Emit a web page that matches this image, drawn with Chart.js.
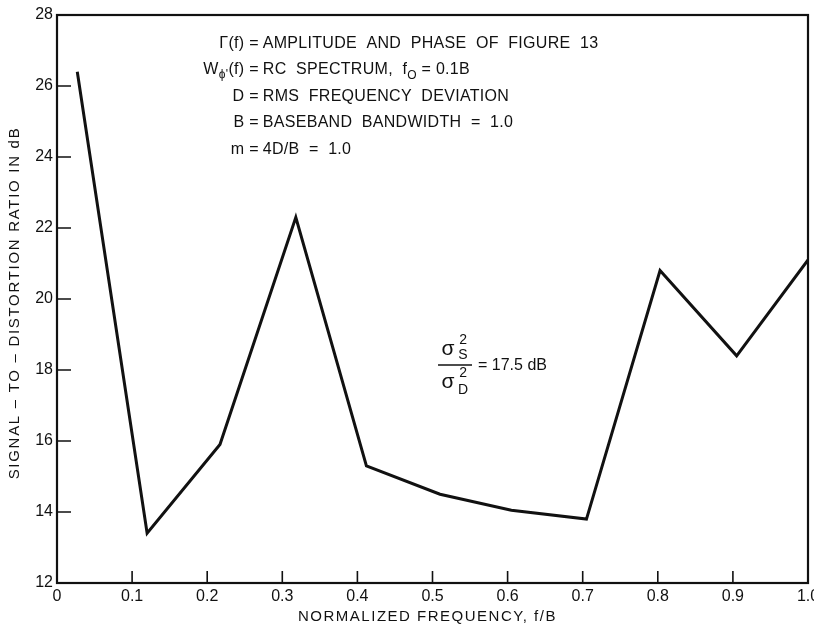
<!DOCTYPE html>
<html>
<head>
<meta charset="utf-8">
<script src="https://cdn.jsdelivr.net/npm/chart.js@4.4.1/dist/chart.umd.min.js"></script>
<style>
  html, body { margin: 0; padding: 0; background: #fff; }
  #wrap { width: 814px; height: 630px; }
</style>
</head>
<body>
<div id="wrap"><canvas id="c" width="814" height="630"></canvas></div>
<script>
// Normalized frequency f/B and the signal-to-distortion ratio (dB) at each point
const freq  = [0.027, 0.12, 0.217, 0.318, 0.412, 0.51, 0.605, 0.705, 0.803, 0.905, 1.0];
const ratio = [26.4, 13.4, 15.9, 22.3, 15.3, 14.5, 14.05, 13.8, 20.8, 18.4, 21.1];

const xTickLabels = ['0', '0.1', '0.2', '0.3', '0.4', '0.5', '0.6', '0.7', '0.8', '0.9', '1.0'];
const yTickLabels = ['12', '14', '16', '18', '20', '22', '24', '26', '28'];

const xTitle = 'NORMALIZED FREQUENCY, f/B';
const yTitle = 'SIGNAL – TO – DISTORTION RATIO IN dB';

// Parameter legend: left side (up to "="), right side
const noteLeft  = [
  [{ t: 'Γ(f) =' }],
  [{ t: 'W' }, { t: 'ϕ\'', s: true, dy: 4 }, { t: '(f) =' }],
  [{ t: 'D =' }],
  [{ t: 'B =' }],
  [{ t: 'm =' }]
];
const noteRight = [
  [{ t: 'AMPLITUDE  AND  PHASE  OF  FIGURE  13' }],
  [{ t: 'RC  SPECTRUM,  f' }, { t: 'O', s: true, dy: 5 }, { t: ' = 0.1B' }],
  [{ t: 'RMS  FREQUENCY  DEVIATION' }],
  [{ t: 'BASEBAND  BANDWIDTH  =  1.0' }],
  [{ t: '4D/B  =  1.0' }]
];
const ratioNote = { num: 'σ', sup: '2', subNum: 'S', subDen: 'D', value: '= 17.5 dB' };

const FONT = "'Liberation Sans', Arial, Helvetica, sans-serif";
const NOTE_FONT = "'Liberation Sans', Arial, sans-serif";
const INK = '#111';

function runsWidth(ctx, runs, size, small) {
  let w = 0;
  for (const r of runs) {
    ctx.font = (r.s ? small : size) + 'px ' + NOTE_FONT;
    w += ctx.measureText(r.t).width;
  }
  return w;
}
function drawRuns(ctx, x, y, runs, size, small) {
  for (const r of runs) {
    ctx.font = (r.s ? small : size) + 'px ' + NOTE_FONT;
    ctx.fillText(r.t, x, y + (r.dy || 0));
    x += ctx.measureText(r.t).width;
  }
}

const whiteBg = {
  id: 'whiteBg',
  beforeDraw(chart) {
    const ctx = chart.ctx;
    ctx.save();
    ctx.fillStyle = '#fff';
    ctx.fillRect(0, 0, chart.width, chart.height);
    ctx.restore();
  }
};

// Frame around the plot, inward tick marks, axis titles and annotations
const decorations = {
  id: 'decorations',
  afterDraw(chart) {
    const ctx = chart.ctx;
    const a = chart.chartArea;
    const xs = chart.scales.x, ys = chart.scales.y;
    ctx.save();
    ctx.strokeStyle = INK;
    ctx.lineWidth = 2.2;
    ctx.strokeRect(a.left, a.top, a.right - a.left, a.bottom - a.top);

    ctx.lineWidth = 1.6;
    ctx.beginPath();
    xs.ticks.forEach((t, i) => {
      if (i === 0 || i === xs.ticks.length - 1) return;
      const px = xs.getPixelForValue(t.value);
      ctx.moveTo(px, a.bottom);
      ctx.lineTo(px, a.bottom - 12);
    });
    ys.ticks.forEach((t, i) => {
      if (i === 0 || i === ys.ticks.length - 1) return;
      const py = ys.getPixelForValue(t.value);
      ctx.moveTo(a.left, py);
      ctx.lineTo(a.left + 14, py);
    });
    ctx.stroke();

    // axis titles
    ctx.fillStyle = INK;
    ctx.textBaseline = 'middle';
    ctx.textAlign = 'center';
    ctx.font = '15px ' + FONT;
    ctx.letterSpacing = '1.5px';
    ctx.fillText(xTitle, (a.left + a.right) / 2 - 5, 617);
    ctx.save();
    ctx.translate(15, (a.top + a.bottom) / 2 + 4);
    ctx.rotate(-Math.PI / 2);
    ctx.letterSpacing = '1.7px';
    ctx.fillText(yTitle, 0, 0);
    ctx.restore();

    // parameter legend
    ctx.letterSpacing = '0.3px';
    ctx.textAlign = 'left';
    ctx.textBaseline = 'alphabetic';
    const nx = xs.getPixelForValue(0.274);
    const ny = ys.getPixelForValue(27.24) + 6;
    const size = 16, small = 12;
    for (let i = 0; i < noteLeft.length; i++) {
      const y = ny + i * 26.5;
      const lw = runsWidth(ctx, noteLeft[i], size, small);
      drawRuns(ctx, nx - 4 - lw, y, noteLeft[i], size, small);
      drawRuns(ctx, nx, y, noteRight[i], size, small);
    }

    // sigma ratio annotation
    const cx = xs.getPixelForValue(0.53);
    const cy = ys.getPixelForValue(18.14);
    ctx.letterSpacing = '0px';
    ctx.textBaseline = 'middle';
    ctx.textAlign = 'center';
    ctx.font = '21px ' + FONT;
    ctx.fillText(ratioNote.num, cx - 7, cy - 16);
    ctx.fillText(ratioNote.num, cx - 7, cy + 17);
    ctx.font = '14px ' + FONT;
    ctx.fillText(ratioNote.sup, cx + 8, cy - 25);
    ctx.fillText(ratioNote.subNum, cx + 8, cy - 10);
    ctx.fillText(ratioNote.sup, cx + 8, cy + 8);
    ctx.fillText(ratioNote.subDen, cx + 8, cy + 25);
    ctx.lineWidth = 1.5;
    ctx.beginPath();
    ctx.moveTo(cx - 17, cy);
    ctx.lineTo(cx + 17, cy);
    ctx.stroke();
    ctx.textAlign = 'left';
    ctx.font = '16px ' + FONT;
    ctx.fillText(ratioNote.value, cx + 23, cy + 1);
    ctx.restore();
  }
};

const points = freq.map((f, i) => ({ x: f, y: ratio[i] }));

new Chart(document.getElementById('c'), {
  type: 'line',
  data: {
    datasets: [{
      data: points,
      borderColor: INK,
      borderWidth: 3,
      pointRadius: 0,
      tension: 0,
      fill: false,
      borderJoinStyle: 'miter'
    }]
  },
  options: {
    responsive: false,
    animation: false,
    layout: { padding: { top: 15, right: 6, left: 0, bottom: 0 } },
    plugins: { legend: { display: false }, tooltip: { enabled: false } },
    scales: {
      x: {
        type: 'linear',
        min: 0, max: 1,
        grid: { display: false, drawTicks: false },
        border: { display: false },
        ticks: {
          stepSize: 0.1,
          padding: 4,
          color: INK,
          font: { family: FONT, size: 16 },
          maxRotation: 0,
          autoSkip: false,
          callback: (v, i) => xTickLabels[i]
        },
        afterFit(scale) { scale.height = 47; scale.paddingLeft = 0; scale.paddingRight = 0; }
      },
      y: {
        min: 12, max: 28,
        grid: { display: false, drawTicks: false },
        border: { display: false },
        ticks: {
          stepSize: 2,
          padding: 4,
          color: INK,
          font: { family: FONT, size: 16 },
          callback: (v, i) => yTickLabels[i]
        },
        afterFit(scale) { scale.width = 57; }
      }
    }
  },
  plugins: [whiteBg, decorations]
});
</script>
</body>
</html>
